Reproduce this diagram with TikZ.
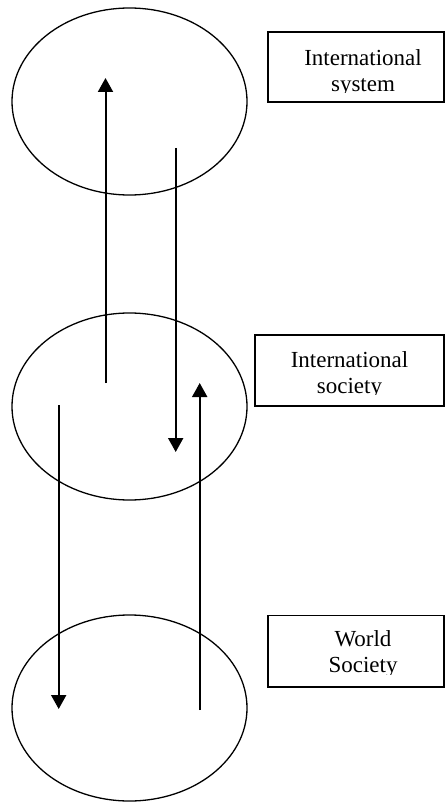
\documentclass[tikz,border=0pt]{standalone}
\usepackage{fontspec}
\setmainfont{Liberation Serif}
\usetikzlibrary{shapes.geometric,arrows.meta}
\begin{document}
\begin{tikzpicture}[x=1pt,y=-1pt,
  level/.style={draw, ellipse, line width=1.3pt, inner sep=0pt,
                minimum width=235pt, minimum height=187pt},
  labelbox/.style={draw, rectangle, line width=1.8pt, inner sep=0pt},
  labeltext/.style={inner sep=0pt, anchor=base,
                    font=\fontsize{23}{26}\selectfont},
  flow/.style={line width=2pt, -{Triangle[width=15pt,length=14pt]}}]
\useasboundingbox (0,0) rectangle (445,802);

% the three levels
\node[level] (sys) at (129.5,101.5) {};
\node[level] (soc) at (129.5,406.5) {};
\node[level, minimum height=186pt] (world) at (129.5,708) {};

% label boxes
\node[labelbox, minimum width=176pt, minimum height=70pt] (bsys) at (356,67) {};
\node[labelbox, minimum width=189pt, minimum height=71pt] (bsoc) at (349.5,370.5) {};
\node[labelbox, minimum width=176pt, minimum height=71.5pt] (bworld) at (356,651.2) {};

% label texts, cut off at the lower edge of the text area
\begin{scope}
  \clip (262,34) rectangle (442,93);
  \node[labeltext] (tsys1) at (363,65.7) {International};
  \node[labeltext] (tsys2) at (363,91.8) {system};
\end{scope}
\begin{scope}
  \clip (258,337) rectangle (442,394.5);
  \node[labeltext] (tsoc1) at (349.5,367.5) {International};
  \node[labeltext] (tsoc2) at (349.5,393.5) {society};
\end{scope}
\begin{scope}
  \clip (270,617) rectangle (442,674);
  \node[labeltext] (tworld1) at (363,646.7) {World};
  \node[labeltext] (tworld2) at (363,672.7) {Society};
\end{scope}

% flows between the levels
\coordinate (up1a) at (105.5,383);
\coordinate (up1b) at (105.5,78);
\coordinate (dn1a) at (175.7,148);
\coordinate (dn1b) at (175.7,452);
\coordinate (dn2a) at (58.7,405);
\coordinate (dn2b) at (58.7,709);
\coordinate (up2a) at (199.7,710);
\coordinate (up2b) at (199.7,383);

\draw[flow] (up1a) -- (up1b);
\draw[flow] (dn1a) -- (dn1b);
\draw[flow] (dn2a) -- (dn2b);
\draw[flow] (up2a) -- (up2b);
\end{tikzpicture}
\end{document}
